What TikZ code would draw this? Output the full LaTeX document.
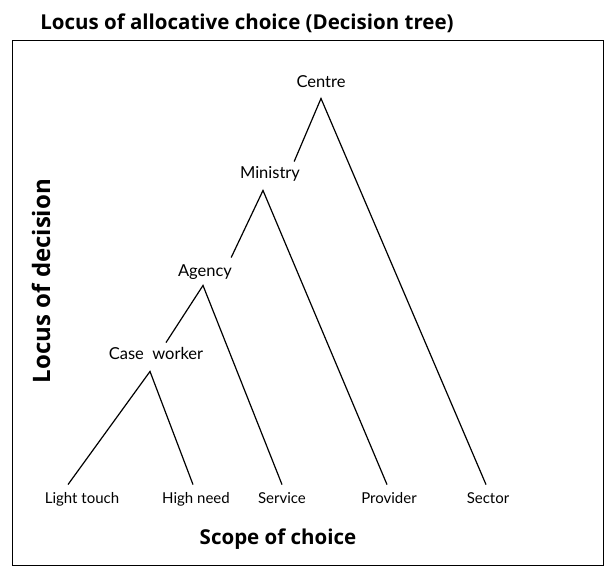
\documentclass[tikz,border=0pt]{standalone}
\usepackage{fontspec}
\setmainfont{Lato}
\newfontfamily\headfont{Open Sans}
\begin{document}
\begin{tikzpicture}[x=1pt,y=-1pt,
  lbl/.style={inner sep=0pt, text height=10pt, text depth=2.5pt},
  level/.style={lbl, font=\fontsize{16.5}{18}\selectfont},
  scope/.style={lbl, font=\fontsize{15}{17}\selectfont},
  heading/.style={font=\headfont\fontsize{20.5}{23}\selectfont\bfseries, inner sep=0pt},
  branch/.style={line width=1.2pt, black}]
\useasboundingbox (0,0) rectangle (606,566);
% frame
\draw[line width=1pt] (12.5,40.5) rectangle (603.5,565.5);
% headings
\node[heading] (title) at (247,23) {Locus of allocative choice (Decision tree)};
\node[heading] (xaxis) at (278,539) {Scope of choice};
\node[heading, font=\headfont\fontsize{24}{27}\selectfont\bfseries, rotate=90] (yaxis) at (41,281) {Locus of decision};
% decision levels
\node[level] (centre) at (321,84) {Centre};
\node[level] (ministry) at (270,175) {Ministry};
\node[level] (agency) at (205,273) {Agency};
\node[level] (caseworker) at (156,356) {Case\ \ worker};
% scopes
\node[scope] (light) at (82,500) {Light touch};
\node[scope] (high) at (196,500) {High need};
\node[scope] (service) at (282,500) {Service};
\node[scope] (provider) at (389,500) {Provider};
\node[scope] (sector) at (488,500) {Sector};
% branches
\draw[branch] ([xshift=-6pt,yshift=7pt]ministry.north east) -- ([yshift=-8pt]centre.south) -- ([xshift=-2pt,yshift=9pt]sector.north);
\draw[branch] ([xshift=-1pt,yshift=9pt]agency.north east) -- ([xshift=-7pt,yshift=-9pt]ministry.south) -- ([xshift=-2pt,yshift=9pt]provider.north);
\draw[branch] ([xshift=10pt,yshift=7pt]caseworker.north) -- ([xshift=-2pt,yshift=-6pt]agency.south) -- ([yshift=9pt]service.north);
\draw[branch] ([xshift=-14pt,yshift=9pt]light.north) -- ([xshift=-6pt,yshift=-9pt]caseworker.south) -- ([xshift=-3pt,yshift=9pt]high.north);
\end{tikzpicture}
\end{document}
